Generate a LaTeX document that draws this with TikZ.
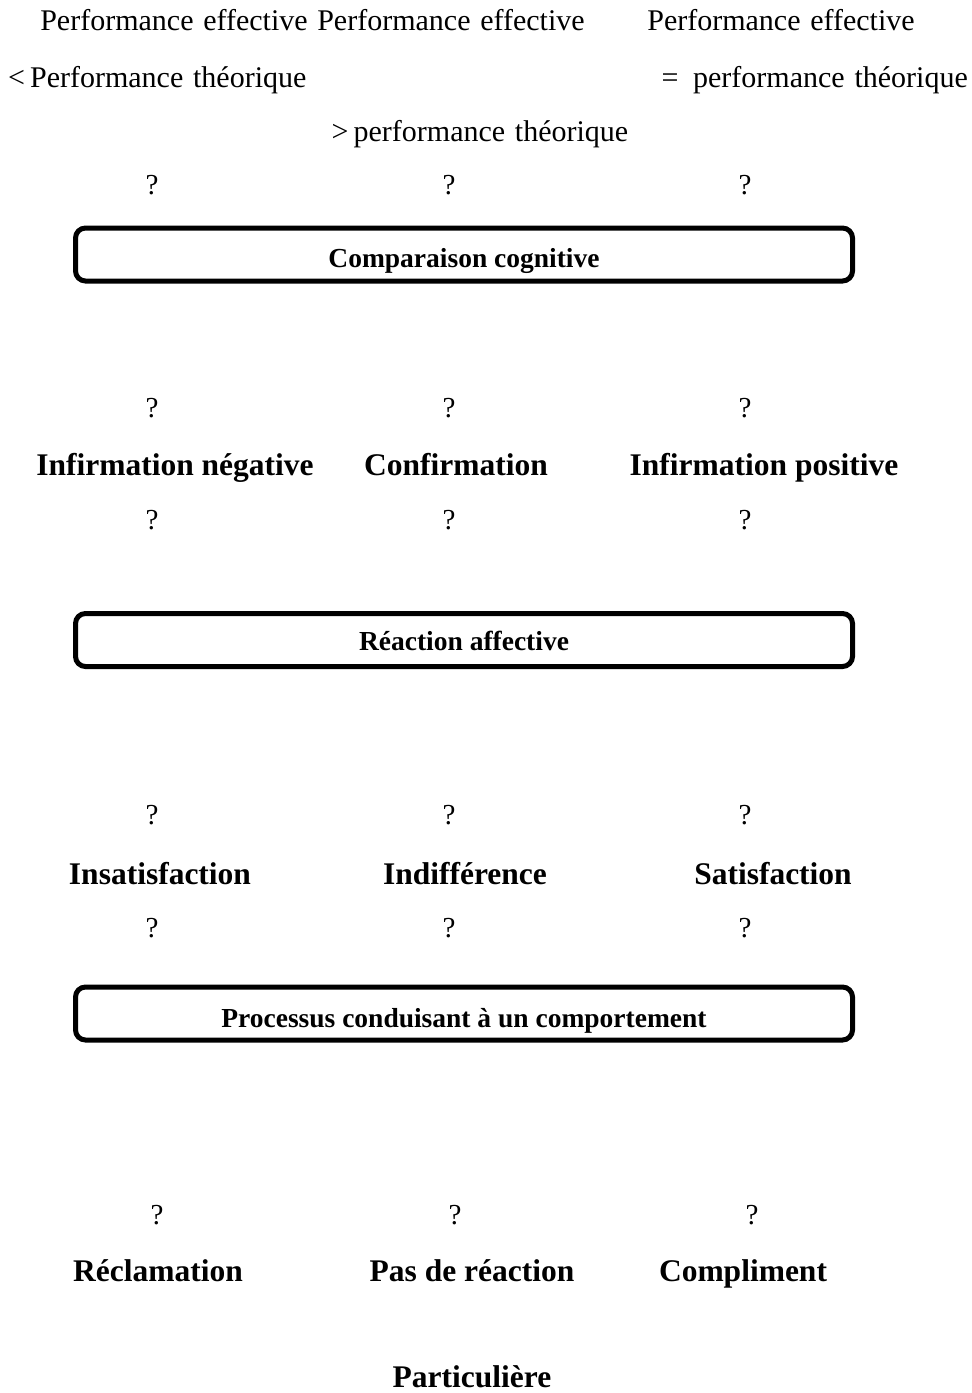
\documentclass[tikz,border=0pt]{standalone}
\usepackage{fontspec}
\setmainfont{Liberation Serif}
\newfontfamily\widefont{Liberation Serif}[WordSpace=1.3]
\begin{document}
\begin{tikzpicture}[x=1pt,y=-1pt,
  plain/.style={inner sep=0pt,anchor=base,font=\fontsize{30}{35}\widefont},
  qmark/.style={inner sep=0pt,anchor=base,font=\fontsize{29}{34}\selectfont},
  result/.style={inner sep=0pt,anchor=base,font=\fontsize{31.5}{37}\selectfont\bfseries},
  boxlabel/.style={inner sep=0pt,anchor=base,font=\fontsize{27.5}{32}\selectfont\bfseries},
  stagebox/.style={draw,line width=5pt,rounded corners=10pt,minimum width=777pt,minimum height=53pt,inner sep=0pt}]
\useasboundingbox (0,0) rectangle (972,1393);

% performance comparisons
\node[plain] (pe1) at (174,30) {Performance effective};
\node[plain] (pe2) at (451,30) {Performance effective};
\node[plain] (pe3) at (781,30) {Performance effective};
\node[plain,anchor=base west] (lt) at (8,87) {<\,Performance théorique};
\node[plain,anchor=base east] (eq) at (968,87) {=\, performance théorique};
\node[plain] (gt) at (480,141) {>\,performance théorique};

\node[qmark] (q1a) at (152,194) {?};
\node[qmark] (q1b) at (449,194) {?};
\node[qmark] (q1c) at (745,194) {?};

% stage 1
\node[stagebox] (box1) at (464,254.5) {};
\node[boxlabel] (lab1) at (464,267) {Comparaison cognitive};

\node[qmark] (q2a) at (152,417) {?};
\node[qmark] (q2b) at (449,417) {?};
\node[qmark] (q2c) at (745,417) {?};

\node[result] (neg) at (175,475) {Infirmation négative};
\node[result] (conf) at (456,475) {Confirmation};
\node[result] (pos) at (764,475) {Infirmation positive};

\node[qmark] (q3a) at (152,529) {?};
\node[qmark] (q3b) at (449,529) {?};
\node[qmark] (q3c) at (745,529) {?};

% stage 2
\node[stagebox] (box2) at (464,640) {};
\node[boxlabel] (lab2) at (464,650) {Réaction affective};

\node[qmark] (q4a) at (152,824) {?};
\node[qmark] (q4b) at (449,824) {?};
\node[qmark] (q4c) at (745,824) {?};

\node[result] (insat) at (160,884) {Insatisfaction};
\node[result] (indif) at (465,884) {Indifférence};
\node[result] (sat) at (773,884) {Satisfaction};

\node[qmark] (q5a) at (152,937) {?};
\node[qmark] (q5b) at (449,937) {?};
\node[qmark] (q5c) at (745,937) {?};

% stage 3
\node[stagebox] (box3) at (464,1013.5) {};
\node[boxlabel] (lab3) at (464,1027) {Processus conduisant à un comportement};

\node[qmark] (q6a) at (157,1224) {?};
\node[qmark] (q6b) at (455,1224) {?};
\node[qmark] (q6c) at (752,1224) {?};

\node[result] (recl) at (158,1281) {Réclamation};
\node[result] (none) at (472,1281) {Pas de réaction};
\node[result] (comp) at (743,1281) {Compliment};

\node[result] (part) at (472,1387) {Particulière};
\end{tikzpicture}
\end{document}
